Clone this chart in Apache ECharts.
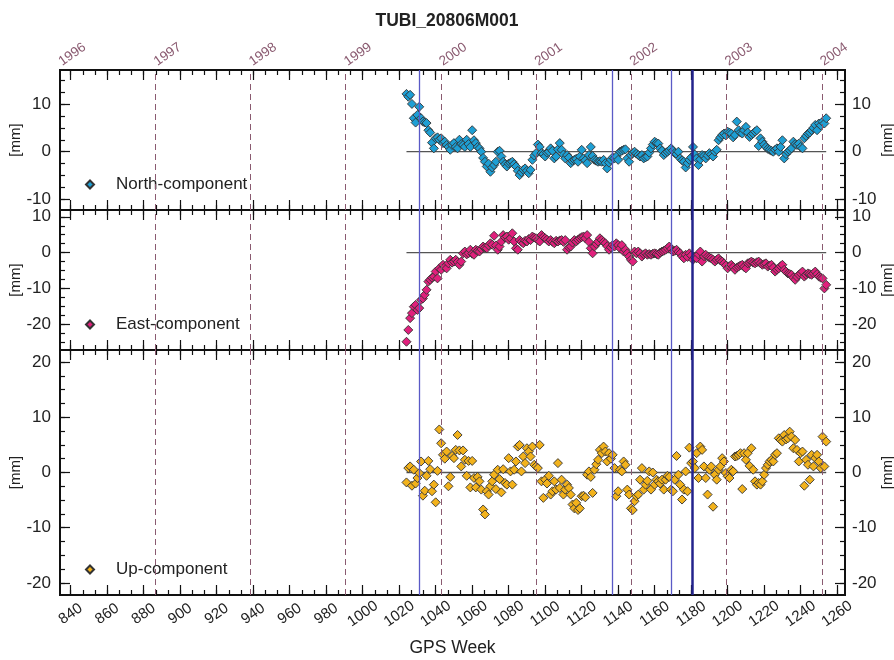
<!DOCTYPE html>
<html><head><meta charset="utf-8">
<script src="https://cdn.jsdelivr.net/npm/echarts@6/dist/echarts.min.js"></script>
<style>html,body{margin:0;padding:0;background:#fff}#c{width:894px;height:660px}</style>
</head><body><div id="c"></div>
<script>
const chartTitle = 'TUBI_20806M001';
const weekTicks = [840,860,880,900,920,940,960,980,1000,1020,1040,1060,1080,1100,1120,1140,1160,1180,1200,1220,1240,1260];
const yearLabels = ['1996','1997','1998','1999','2000','2001','2002','2003','2004'];
const yearWeeks = [834.14,886.43,938.57,990.71,1042.86,1095.14,1147.29,1199.43,1251.57];
const eventWeeks = [1031.0,1136.7,1169.3];
const mainEventWeek = 1180.6;
const startWeek = 1024;
const panelNames = ['North-component','East-component','Up-component'];
const panelColors = ['#1e9fd4','#e0207c','#f2b21c'];
const yLabelVals = [[-10,0,10],[-20,-10,0,10],[-20,-10,0,10,20]];
const yRanges = [[-12.2,17.1],[-27.2,11.9],[-22.2,22.2]];

const north = [
 12.1,11.5,11.9,10.0,7.0,6.1,7.7,9.4,7.0,6.3,
 6.1,6.0,4.5,4.0,1.9,0.7,2.8,3.0,2.5,2.8,
 1.8,2.1,1.4,1.0,0.4,1.4,1.8,1.0,0.7,2.5,
 1.6,1.4,1.0,2.5,1.6,1.0,4.5,2.4,1.8,1.0,
 0.7,0.0,-1.3,-2.1,-3.1,-2.5,-4.2,-3.3,-2.8,-2.1,
 0.0,0.2,-1.0,-2.1,-2.6,-3.1,-2.5,-2.3,-2.1,-2.6,
 -3.1,-4.0,-4.9,-4.3,-3.8,-3.5,-4.0,-4.5,-3.8,-1.7,
 -0.8,-0.3,1.5,1.0,-0.3,-0.5,-1.0,-0.2,0.0,0.7,
 0.2,-1.4,-1.0,0.5,1.8,0.4,-0.6,-1.4,-0.7,-1.2,
 -2.4,-1.9,-1.7,-1.5,-2.1,-1.0,0.4,-1.4,-1.8,-2.4,
 -0.7,1.0,-0.9,-1.7,-1.9,-2.1,-2.0,-2.1,-1.7,-2.4,
 -3.5,-2.3,-1.7,-1.2,-1.4,-1.0,-1.7,0.0,0.2,0.4,
 0.5,-1.4,-2.1,-0.7,-0.3,0.0,-0.4,-0.7,-1.0,-0.7,
 -1.4,-1.2,-1.0,-0.2,0.7,1.5,2.1,1.8,1.7,0.7,
 0.2,-0.7,-0.3,0.0,0.3,0.7,0.2,-0.3,-0.5,0.0,
 -1.4,-1.8,-2.1,-3.3,-2.4,-1.7,-1.2,1.0,-0.6,-1.4,
 -2.8,-1.6,-0.7,-0.9,-1.4,-0.8,-0.3,-0.6,-1.0,0.0,
 0.4,2.4,3.0,3.5,3.8,3.4,4.2,4.0,3.8,3.0,
 3.5,6.3,4.5,4.0,3.8,4.5,5.2,4.0,3.1,3.5,
 3.8,4.2,4.5,1.2,2.8,2.1,1.5,1.0,0.6,0.4,
 0.2,0.0,0.4,0.7,0.0,1.0,2.4,-1.4,-0.5,0.0,
 0.3,0.7,2.1,1.6,1.4,1.7,1.0,0.7,2.8,3.3,
 3.8,4.0,4.5,5.0,5.6,4.5,5.9,5.5,6.3,5.9,
 7.0
];
const east = [
 -24.9,-21.6,-18.3,-16.9,-15.1,-14.6,-16.0,-15.5,-13.2,-12.8,
 -11.8,-10.4,-8.1,-7.6,-7.0,-6.7,-5.3,-7.2,-4.4,-4.8,
 -3.4,-4.0,-4.4,-3.0,-2.0,-2.8,-2.5,-2.0,-2.6,-3.4,
 -2.5,-0.2,0.3,-0.5,-0.2,0.8,-0.3,-0.6,0.8,0.5,
 0.3,1.0,1.7,1.4,1.2,2.0,2.6,2.2,4.7,2.0,
 0.8,1.7,3.1,4.9,4.2,4.5,3.6,4.0,5.4,3.1,
 1.2,0.8,3.5,3.0,2.6,3.3,3.1,3.8,3.5,4.5,
 4.2,4.0,3.5,3.1,4.9,4.4,4.0,3.6,3.1,3.5,
 3.0,2.6,3.3,3.1,3.4,3.5,3.0,3.5,0.8,1.5,
 1.7,2.8,3.5,3.1,3.6,4.0,4.3,4.5,4.0,4.9,
 3.0,1.2,-0.2,1.7,2.4,3.1,4.0,3.5,3.0,2.6,
 1.8,0.8,1.5,2.1,1.7,2.6,2.1,1.2,2.1,0.3,
 0.8,-0.2,-1.1,-2.0,-2.5,0.3,-0.2,0.3,-0.2,-1.1,
 -0.5,-0.2,-0.6,-0.4,-0.6,-0.3,-0.2,-0.4,-0.6,0.0,
 0.3,0.5,0.8,1.2,1.7,1.0,0.3,0.5,0.8,0.2,
 -0.2,-1.0,-1.6,-0.6,-1.2,-0.2,-0.8,-2.0,-1.3,-1.6,
 -0.5,0.3,-2.5,-1.0,-0.6,-1.1,-1.4,-1.6,-2.0,-2.5,
 -2.0,-1.6,-2.2,-2.5,-3.0,-3.6,-4.4,-3.8,-3.4,-4.0,
 -4.8,-4.2,-3.9,-3.6,-3.4,-4.0,-4.4,-3.0,-2.8,-2.5,
 -2.8,-3.0,-2.7,-2.5,-3.0,-3.4,-3.2,-3.0,-3.9,-3.6,
 -3.4,-4.2,-5.3,-4.8,-4.4,-3.8,-3.4,-4.8,-5.3,-5.8,
 -6.0,-6.2,-7.0,-7.6,-6.8,-6.2,-5.8,-5.3,-6.7,-6.2,
 -5.8,-6.0,-6.2,-5.8,-5.3,-6.0,-6.7,-7.0,-7.2,-10.0,
 -9.0
];
const up = [
 -1.8,0.8,1.1,-2.4,0.5,-2.0,-1.0,-0.1,2.0,-4.2,
 -3.3,-0.6,2.1,0.6,-3.4,-2.2,-5.4,0.3,7.8,5.3,
 3.2,2.5,3.8,-2.5,-0.8,3.0,2.6,4.1,6.8,4.0,
 1.1,4.0,2.3,-0.6,2.1,-2.7,2.1,-1.0,-2.7,-0.8,
 -1.6,-3.1,-6.7,-7.6,-3.4,-4.0,-2.5,-1.6,-0.4,-3.0,
 0.5,-1.2,-3.6,0.6,-1.9,-2.2,2.6,0.2,-2.2,0.5,
 2.0,4.7,5.0,0.2,2.9,1.7,4.4,3.8,2.9,4.7,
 1.4,1.1,0.8,5.0,-1.6,-4.6,-1.3,-2.0,-0.6,-4.0,
 -3.4,-1.6,-3.1,1.7,-2.8,-1.3,-4.0,-3.1,-2.2,-2.8,
 -4.0,-5.8,-6.5,-5.5,-6.8,-6.5,-4.3,-4.2,-4.5,-0.4,
 0.2,-0.8,-3.7,0.5,1.5,2.3,4.1,3.5,4.7,3.8,
 2.0,3.5,2.5,3.2,0.8,-4.3,-3.4,0.5,0.2,2.0,
 1.4,-3.1,-4.0,-6.5,-6.8,-5.2,-4.3,-4.0,-1.3,0.8,
 -3.1,-2.2,-1.5,0.2,-3.1,0.0,-2.2,-1.3,-1.6,-2.0,
 -1.3,-3.1,-1.3,-0.6,-0.8,-3.1,-3.4,-1.3,3.0,-0.4,
 -2.2,-4.9,-3.1,0.2,-3.4,4.5,1.7,2.0,0.8,3.5,
 -1.0,4.7,4.1,1.1,-1.0,-4.0,0.5,1.1,-6.2,-0.4,
 -1.3,0.5,1.1,2.6,2.0,-0.1,-0.7,-1.0,0.5,0.2,
 2.9,3.0,3.2,3.5,-3.0,3.5,2.3,3.5,1.2,4.4,
 0.5,-1.6,-2.2,-1.9,-2.2,-1.6,-0.4,0.8,1.4,2.0,
 2.3,2.0,3.2,3.5,6.2,5.9,5.6,6.8,6.0,6.2,
 7.4,6.5,4.4,5.9,4.1,2.0,3.5,3.8,-2.4,2.3,
 1.4,-1.3,3.2,1.1,2.6,3.2,2.0,0.8,6.5,1.1,
 5.6
];
const panelValues = [north, east, up];

const X_MIN = 834.14, X_MAX = 1264.3;
const FONT = 'Liberation Sans, Arial, Helvetica, sans-serif';
const gridBoxes = [{top:70,height:140},{top:210,height:140},{top:350,height:245}];

// minor tick positions (3 sub-intervals per 20 weeks, 4 per 10 mm)
const minorWeeks = [];
weekTicks.forEach(m => { [0, 20/3, 40/3].forEach(d => { const v = m + d; if (v > X_MIN && v < X_MAX) minorWeeks.push(v); }); });
const minorY = yRanges.map(r => { const a = []; for (let v = Math.ceil(r[0]/2.5)*2.5; v <= r[1]; v += 2.5) a.push(v); return a; });

const axisLineStyle = {color:'#111', width:2};
const tickStyle = {color:'#111', width:1.2};

const grid = gridBoxes.map(b => ({left:60, right:49, top:b.top, height:b.height, containLabel:false, outerBoundsMode:'none'}));
const xAxis = [], yAxis = [], series = [], legend = [];
const legendTops = [171, 311, 556];

gridBoxes.forEach((b, g) => {
  const base = {type:'value', gridIndex:g, min:X_MIN, max:X_MAX, splitLine:{show:false},
    axisLine:{show:true, onZero:false, lineStyle:axisLineStyle}};
  const bottomLabel = g === 2 ? {show:true, customValues:weekTicks, rotate:35, align:'center', verticalAlign:'middle',
      margin:19, fontSize:15, color:'#222', fontFamily:FONT, formatter: v => String(Math.round(v))} : {show:false};
  const bx = Object.assign({}, base, {position:'bottom',
    axisTick:{show:true, inside:true, length:10, customValues:weekTicks, lineStyle:tickStyle},
    axisLabel:bottomLabel});
  if (g === 2) Object.assign(bx, {name:'GPS Week', nameLocation:'middle', nameGap:44,
    nameTextStyle:{fontSize:17.5, color:'#222', fontFamily:FONT}});
  xAxis.push(bx);
  xAxis.push(Object.assign({}, base, {position:'bottom',
    axisTick:{show:true, inside:true, length:5, customValues:minorWeeks, lineStyle:tickStyle}, axisLabel:{show:false}}));
  const topLabel = g === 0 ? {show:true, customValues:yearWeeks, rotate:-35, align:'left', verticalAlign:'middle',
      margin:7, fontSize:13.5, color:'#8a5a70', fontFamily:FONT,
      formatter: v => { let bi = 0; yearWeeks.forEach((w,i) => { if (Math.abs(w - v) < Math.abs(yearWeeks[bi] - v)) bi = i; }); return yearLabels[bi]; }} : {show:false};
  xAxis.push(Object.assign({}, base, {position:'top',
    axisTick:{show:true, inside:true, length:10, customValues:weekTicks, lineStyle:tickStyle}, axisLabel:topLabel}));
  xAxis.push(Object.assign({}, base, {position:'top',
    axisTick:{show:true, inside:true, length:5, customValues:minorWeeks, lineStyle:tickStyle}, axisLabel:{show:false}}));

  const yb = {type:'value', gridIndex:g, min:yRanges[g][0], max:yRanges[g][1], splitLine:{show:false},
    axisLine:{show:true, onZero:false, lineStyle:axisLineStyle}};
  const nameStyle = {fontSize:15, color:'#222', fontFamily:FONT};
  ['left','right'].forEach(pos => {
    yAxis.push(Object.assign({}, yb, {position:pos,
      name:'[mm]', nameLocation:'middle', nameGap: pos === 'left' ? 37 : 35, nameMoveOverlap:false, nameTextStyle:nameStyle,
      axisTick:{show:true, inside:true, length:10, customValues:yLabelVals[g], lineStyle:tickStyle},
      axisLabel:{show:true, customValues:yLabelVals[g], margin: pos === 'left' ? 9 : 7, fontSize:17, color:'#222', fontFamily:FONT}}));
    yAxis.push(Object.assign({}, yb, {position:pos,
      axisTick:{show:true, inside:true, length:5, customValues:minorY[g], lineStyle:tickStyle},
      axisLabel:{show:false}}));
  });

  const vals = panelValues[g];
  const pts = vals.map((v, i) => [startWeek + i, v]);
  const lastWeek = startWeek + vals.length - 1;
  const ml = yearWeeks.slice(1).map(w => ({xAxis:w, lineStyle:{type:[6,4], color:'#8a5a70', width:1}}))
    .concat(eventWeeks.map(w => ({xAxis:w, lineStyle:{type:'solid', color:'#5a5ac6', width:1.3}})))
    .concat([{xAxis:mainEventWeek, lineStyle:{type:'solid', color:'#23238c', width:2.5}}]);
  series.push({type:'line', xAxisIndex:4*g, yAxisIndex:4*g, data:[[startWeek,0],[lastWeek,0]],
    symbol:'none', lineStyle:{color:'#555', width:1.3}, z:1, silent:true,
    markLine:{silent:true, symbol:['none','none'], label:{show:false}, data:ml}});
  series.push({type:'scatter', name:panelNames[g], xAxisIndex:4*g, yAxisIndex:4*g, data:pts,
    symbol:'diamond', symbolSize:9, z:3,
    itemStyle:{color:panelColors[g], borderColor:'#333', borderWidth:0.9, opacity:1}});
  legend.push({data:[panelNames[g]], left:80, top:legendTops[g], orient:'horizontal',
    icon:'path://M0,-1L1,0L0,1L-1,0Z', symbolKeepAspect:true, itemWidth:42, itemHeight:8,
    textStyle:{fontSize:17, color:'#222', fontFamily:FONT}, selectedMode:false});
});

const chart = echarts.init(document.getElementById('c'), null, {renderer:'canvas'});
chart.setOption({
  animation:false,
  backgroundColor:'#fff',
  title:{text:chartTitle, left:'center', top:7, textStyle:{fontSize:17.5, fontWeight:'bold', color:'#222', fontFamily:FONT}},
  grid, xAxis, yAxis, series, legend
});
</script></body></html>
